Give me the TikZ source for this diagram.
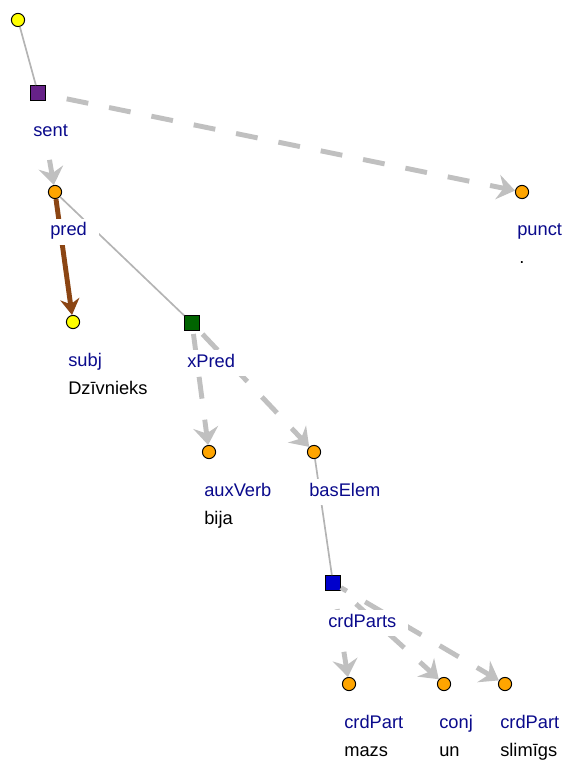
\documentclass[tikz,border=0pt]{standalone}
\usepackage{fontspec}
\setmainfont{Liberation Sans}
\usetikzlibrary{arrows.meta}
\definecolor{lblblue}{RGB}{10,10,140}
\definecolor{thingray}{RGB}{180,180,180}
\definecolor{depgray}{RGB}{192,192,192}
\definecolor{depbrown}{RGB}{139,69,19}
\definecolor{nodeyellow}{RGB}{255,255,0}
\definecolor{nodeorange}{RGB}{255,165,0}
\definecolor{nodepurple}{RGB}{102,34,136}
\definecolor{nodegreen}{RGB}{0,100,0}
\definecolor{nodeblue}{RGB}{0,0,204}
\tikzstyle{yellowdot} = [
  circle, draw=black, line width=0.7pt, fill=nodeyellow,
  minimum size=0.33cm, inner sep=0pt
]
\tikzstyle{orangedot} = [
  circle, draw=black, line width=0.7pt, fill=nodeorange,
  minimum size=0.33cm, inner sep=0pt
]
\tikzstyle{coordbox} = [
  rectangle, draw=black, line width=0.7pt,
  minimum size=0.37cm, inner sep=0pt
]
\tikzstyle{afun} = [
  anchor=base west, fill=white, text=lblblue,
  inner xsep=0.3cm, inner ysep=0.14cm, text height=0.82em, text depth=0.25em
]
\tikzstyle{form} = [
  anchor=base west, inner sep=0pt, text=black
]
\tikzset{
  link/.style={line width=1.2pt, draw=thingray},
  dep/.style={
    line width=3.5pt, draw=depgray,
    dash pattern=on 0.55cm off 0.53cm, dash phase=0.18cm,
    {Stealth[length=0.44cm,width=0.62cm,inset=0.15cm]}-
  },
  subjdep/.style={
    line width=3.5pt, draw=depbrown,
    -{Stealth[length=0.4cm,width=0.48cm,inset=0.13cm]}
  }
}

\begin{document}
\begin{tikzpicture}[
  x=0.025cm, y=-0.025cm,
  font=\fontsize{13}{16}\selectfont
]
\useasboundingbox (0,0) rectangle (565,760);

% ------------------------------------------------
% TREE NODES
% ------------------------------------------------

\node[yellowdot] (root) at (18,20) {};
\node[coordbox, fill=nodepurple] (sent) at (38,93) {};
\node[orangedot] (pred) at (55,192) {};
\node[orangedot] (punct) at (522,192) {};
\node[yellowdot] (subj) at (73,322) {};
\node[coordbox, fill=nodegreen] (xPred) at (192,323) {};
\node[orangedot] (auxVerb) at (209,452) {};
\node[orangedot] (basElem) at (314,452) {};
\node[coordbox, fill=nodeblue] (crdParts) at (333,583) {};
\node[orangedot] (crdPartA) at (349,684) {};
\node[orangedot] (conj) at (444,684) {};
\node[orangedot] (crdPartB) at (505,684) {};

% ------------------------------------------------
% EDGES
% ------------------------------------------------

\draw[link] (root) -- (sent);
\draw[link] (pred) -- (xPred);
\draw[link] (basElem) -- (crdParts);

\draw[dep, shorten >=0.55cm] (pred) -- (sent);
\draw[dep, shorten >=0.45cm] (punct) -- (sent);
\draw[subjdep] (pred) -- (subj);
\draw[dep] (auxVerb) -- (xPred);
\draw[dep] (basElem) -- (xPred);
\draw[dep] (crdPartA) -- (crdParts);
\draw[dep] (conj) -- (crdParts);
\draw[dep] (crdPartB) -- (crdParts);

% ------------------------------------------------
% LABELS (function, then word form)
% ------------------------------------------------

\node[afun] (sentL) at ([shift={(-17,44)}]sent) {sent};
\node[afun] (predL) at ([shift={(-17,44)}]pred) {pred};
\node[afun] (punctL) at ([shift={(-17,44)}]punct) {punct};
\node[form] (punctW) at ([shift={(-3,72)}]punct) {.};
\node[afun] (subjL) at ([shift={(-17,44)}]subj) {subj};
\node[form] (subjW) at ([shift={(-5,72)}]subj) {Dzīvnieks};
\node[afun] (xPredL) at ([shift={(-17,44)}]xPred) {xPred};
\node[afun] (auxVerbL) at ([shift={(-17,44)}]auxVerb) {auxVerb};
\node[form] (auxVerbW) at ([shift={(-5,72)}]auxVerb) {bija};
\node[afun] (basElemL) at ([shift={(-17,44)}]basElem) {basElem};
\node[afun] (crdPartsL) at ([shift={(-17,44)}]crdParts) {crdParts};
\node[afun] (crdPartAL) at ([shift={(-17,44)}]crdPartA) {crdPart};
\node[form] (crdPartAW) at ([shift={(-5,72)}]crdPartA) {mazs};
\node[afun] (conjL) at ([shift={(-17,44)}]conj) {conj};
\node[form] (conjW) at ([shift={(-5,72)}]conj) {un};
\node[afun] (crdPartBL) at ([shift={(-17,44)}]crdPartB) {crdPart};
\node[form] (crdPartBW) at ([shift={(-5,72)}]crdPartB) {slimīgs};

\end{tikzpicture}
\end{document}
